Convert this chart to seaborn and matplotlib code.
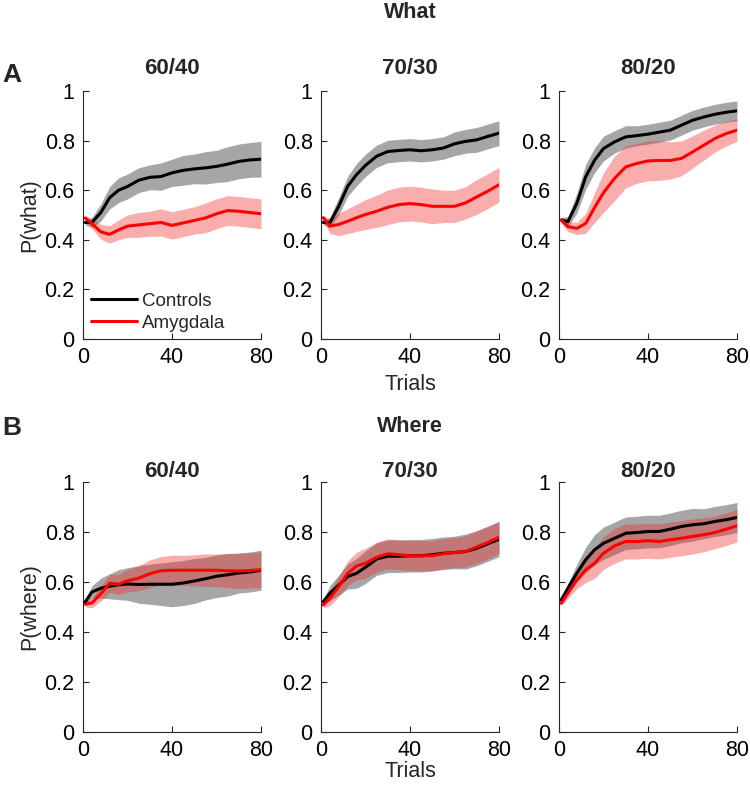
import numpy as np
import pandas as pd
import matplotlib
matplotlib.use("Agg")
import matplotlib.pyplot as plt
import seaborn as sns

trials = [1, 4, 8, 12, 16, 20, 25, 30, 35, 40, 45, 50, 55, 60, 65, 70, 75, 80]

# --- What ---
what_6040_ctrl = [0.47, 0.47, 0.51, 0.57, 0.60, 0.615, 0.64, 0.652, 0.655, 0.67, 0.68, 0.686, 0.69, 0.696, 0.705, 0.716, 0.722, 0.725]
what_6040_ctrl_sem = [0.01, 0.02, 0.035, 0.045, 0.05, 0.05, 0.05, 0.05, 0.055, 0.055, 0.06, 0.06, 0.065, 0.065, 0.07, 0.07, 0.07, 0.072]
what_6040_amy = [0.488, 0.465, 0.432, 0.422, 0.44, 0.455, 0.46, 0.465, 0.47, 0.458, 0.468, 0.478, 0.488, 0.505, 0.518, 0.515, 0.51, 0.505]
what_6040_amy_sem = [0.01, 0.02, 0.03, 0.035, 0.04, 0.045, 0.05, 0.05, 0.055, 0.055, 0.055, 0.055, 0.06, 0.06, 0.06, 0.06, 0.06, 0.06]

what_7030_ctrl = [0.47, 0.469, 0.536, 0.616, 0.663, 0.70, 0.737, 0.756, 0.760, 0.763, 0.759, 0.763, 0.770, 0.787, 0.797, 0.803, 0.817, 0.83]
what_7030_ctrl_sem = [0.01, 0.02, 0.035, 0.04, 0.045, 0.045, 0.045, 0.045, 0.045, 0.045, 0.045, 0.045, 0.045, 0.048, 0.048, 0.05, 0.05, 0.05]
what_7030_amy = [0.489, 0.455, 0.462, 0.475, 0.489, 0.502, 0.515, 0.531, 0.542, 0.546, 0.542, 0.535, 0.535, 0.535, 0.549, 0.573, 0.596, 0.622]
what_7030_amy_sem = [0.01, 0.03, 0.045, 0.05, 0.055, 0.06, 0.065, 0.07, 0.07, 0.07, 0.07, 0.07, 0.065, 0.065, 0.065, 0.07, 0.07, 0.07]

what_8020_ctrl = [0.48, 0.473, 0.547, 0.654, 0.721, 0.768, 0.795, 0.815, 0.82, 0.826, 0.834, 0.842, 0.862, 0.882, 0.895, 0.906, 0.914, 0.92]
what_8020_ctrl_sem = [0.01, 0.02, 0.04, 0.05, 0.05, 0.05, 0.045, 0.045, 0.04, 0.04, 0.04, 0.04, 0.04, 0.04, 0.04, 0.04, 0.04, 0.04]
what_8020_amy = [0.48, 0.453, 0.446, 0.466, 0.53, 0.59, 0.648, 0.694, 0.708, 0.718, 0.72, 0.72, 0.728, 0.754, 0.781, 0.808, 0.828, 0.842]
what_8020_amy_sem = [0.01, 0.02, 0.025, 0.04, 0.06, 0.08, 0.09, 0.085, 0.08, 0.08, 0.08, 0.075, 0.07, 0.065, 0.06, 0.055, 0.05, 0.045]

# --- Where ---
where_6040_ctrl = [0.52, 0.56, 0.575, 0.583, 0.589, 0.592, 0.59, 0.591, 0.591, 0.591, 0.596, 0.604, 0.613, 0.623, 0.629, 0.636, 0.64, 0.647]
where_6040_ctrl_sem = [0.01, 0.025, 0.04, 0.05, 0.06, 0.065, 0.075, 0.08, 0.085, 0.09, 0.09, 0.09, 0.085, 0.085, 0.085, 0.08, 0.08, 0.08]
where_6040_amy = [0.511, 0.516, 0.553, 0.595, 0.591, 0.605, 0.615, 0.633, 0.645, 0.647, 0.647, 0.647, 0.647, 0.647, 0.645, 0.644, 0.646, 0.649]
where_6040_amy_sem = [0.01, 0.02, 0.03, 0.035, 0.04, 0.045, 0.05, 0.055, 0.057, 0.06, 0.06, 0.062, 0.065, 0.065, 0.068, 0.07, 0.07, 0.072]

where_7030_ctrl = [0.521, 0.555, 0.588, 0.622, 0.635, 0.659, 0.692, 0.703, 0.703, 0.705, 0.705, 0.709, 0.715, 0.718, 0.722, 0.735, 0.753, 0.771]
where_7030_ctrl_sem = [0.01, 0.03, 0.04, 0.05, 0.06, 0.065, 0.065, 0.065, 0.065, 0.065, 0.065, 0.065, 0.065, 0.065, 0.07, 0.07, 0.07, 0.07]
where_7030_amy = [0.508, 0.535, 0.582, 0.635, 0.664, 0.675, 0.699, 0.713, 0.709, 0.705, 0.705, 0.705, 0.713, 0.718, 0.722, 0.74, 0.758, 0.779]
where_7030_amy_sem = [0.01, 0.03, 0.04, 0.05, 0.055, 0.06, 0.06, 0.06, 0.06, 0.06, 0.06, 0.06, 0.06, 0.06, 0.062, 0.065, 0.065, 0.065]

where_8020_ctrl = [0.528, 0.575, 0.635, 0.689, 0.729, 0.755, 0.775, 0.795, 0.798, 0.802, 0.802, 0.811, 0.822, 0.829, 0.833, 0.842, 0.849, 0.858]
where_8020_ctrl_sem = [0.01, 0.02, 0.035, 0.05, 0.06, 0.065, 0.065, 0.065, 0.065, 0.065, 0.065, 0.065, 0.065, 0.065, 0.06, 0.06, 0.06, 0.06]
where_8020_amy = [0.515, 0.555, 0.608, 0.648, 0.675, 0.715, 0.745, 0.762, 0.762, 0.765, 0.762, 0.769, 0.775, 0.782, 0.789, 0.798, 0.811, 0.825]
where_8020_amy_sem = [0.01, 0.02, 0.035, 0.05, 0.06, 0.065, 0.07, 0.07, 0.07, 0.07, 0.07, 0.07, 0.07, 0.07, 0.068, 0.065, 0.065, 0.065]

conditions = ["60/40", "70/30", "80/20"]
tick_labels_y = ["0", "0.2", "0.4", "0.6", "0.8", "1"]

panels = {
    ("What", "60/40"): (what_6040_ctrl, what_6040_ctrl_sem, what_6040_amy, what_6040_amy_sem),
    ("What", "70/30"): (what_7030_ctrl, what_7030_ctrl_sem, what_7030_amy, what_7030_amy_sem),
    ("What", "80/20"): (what_8020_ctrl, what_8020_ctrl_sem, what_8020_amy, what_8020_amy_sem),
    ("Where", "60/40"): (where_6040_ctrl, where_6040_ctrl_sem, where_6040_amy, where_6040_amy_sem),
    ("Where", "70/30"): (where_7030_ctrl, where_7030_ctrl_sem, where_7030_amy, where_7030_amy_sem),
    ("Where", "80/20"): (where_8020_ctrl, where_8020_ctrl_sem, where_8020_amy, where_8020_amy_sem),
}

sns.set_style("ticks")
plt.rcParams['font.family'] = ['Liberation Sans', 'DejaVu Sans']
plt.rcParams['xtick.direction'] = 'in'
plt.rcParams['ytick.direction'] = 'in'

fig = plt.figure(figsize=(7.5, 7.86), dpi=100)

lefts = [83, 321, 559]
rows = {"What": (91, 339), "Where": (482, 732)}
title_pad = {"What": 12, "Where": 0}
xlabel_pad = {"What": 4, "Where": 0}
W, H = 750, 786
ax_w = 178

spine_col = '#262626'

for task, (top, bottom) in rows.items():
    for i, cond in enumerate(conditions):
        ax = fig.add_axes([lefts[i] / W, 1 - bottom / H, ax_w / W, (bottom - top) / H])
        ctrl, ctrl_sem, amy, amy_sem = panels[(task, cond)]
        df = pd.DataFrame({
            'trial': trials,
            'ctrl': ctrl, 'ctrl_lo': np.array(ctrl) - np.array(ctrl_sem), 'ctrl_hi': np.array(ctrl) + np.array(ctrl_sem),
            'amy': amy, 'amy_lo': np.array(amy) - np.array(amy_sem), 'amy_hi': np.array(amy) + np.array(amy_sem),
        })
        # controls first, amygdala drawn on top (as in the original)
        ax.fill_between(df['trial'], df['ctrl_lo'], df['ctrl_hi'], color='#909090', alpha=0.8, lw=0)
        sns.lineplot(data=df, x='trial', y='ctrl', color='black', lw=2.2, ax=ax, label='Controls')
        ax.fill_between(df['trial'], df['amy_lo'], df['amy_hi'], color='#f02828', alpha=0.38, lw=0)
        sns.lineplot(data=df, x='trial', y='amy', color='#ff0000', lw=2.2, ax=ax, label='Amygdala')

        ax.set_xlim(0, 80)
        ax.set_ylim(0, 1)
        ax.set_xticks([0, 40, 80])
        ax.set_xticklabels(['0', '40', '80'])
        ax.set_yticks(np.linspace(0, 1, 6))
        ax.set_yticklabels(tick_labels_y)
        ax.tick_params(labelsize=15.5, length=4, width=0.8, colors=spine_col, labelcolor='black', pad=6)
        sns.despine(ax=ax)
        for s in ['left', 'bottom']:
            ax.spines[s].set_color(spine_col)
            ax.spines[s].set_linewidth(0.8)
        ax.set_title(cond, fontsize=16, fontweight='bold', pad=title_pad[task])
        ax.set_ylabel('')
        ax.set_xlabel('')

        if i == 0:
            ax.set_ylabel('P(what)' if task == 'What' else 'P(where)', fontsize=15.5, labelpad=3)
        if i == 1:
            ax.set_xlabel('Trials', fontsize=15.5, labelpad=xlabel_pad[task])
        if task == 'What' and i == 0:
            ax.legend(loc='lower left', frameon=False, fontsize=13.5, handlelength=2.5,
                      handletextpad=0.25, borderaxespad=0.0, labelspacing=0.25,
                      bbox_to_anchor=(0.0, 0.0))
        else:
            ax.get_legend().remove()

fig.text(410 / W, 1 - 13 / H, 'What', ha='center', va='center', fontsize=15.5, fontweight='bold')
fig.text(410 / W, 1 - 426 / H, 'Where', ha='center', va='center', fontsize=15.5, fontweight='bold')
fig.text(12 / W, 1 - 75 / H, 'A', ha='center', va='center', fontsize=19, fontweight='bold')
fig.text(12 / W, 1 - 428 / H, 'B', ha='center', va='center', fontsize=19, fontweight='bold')

fig.savefig('out.png', dpi=100)
